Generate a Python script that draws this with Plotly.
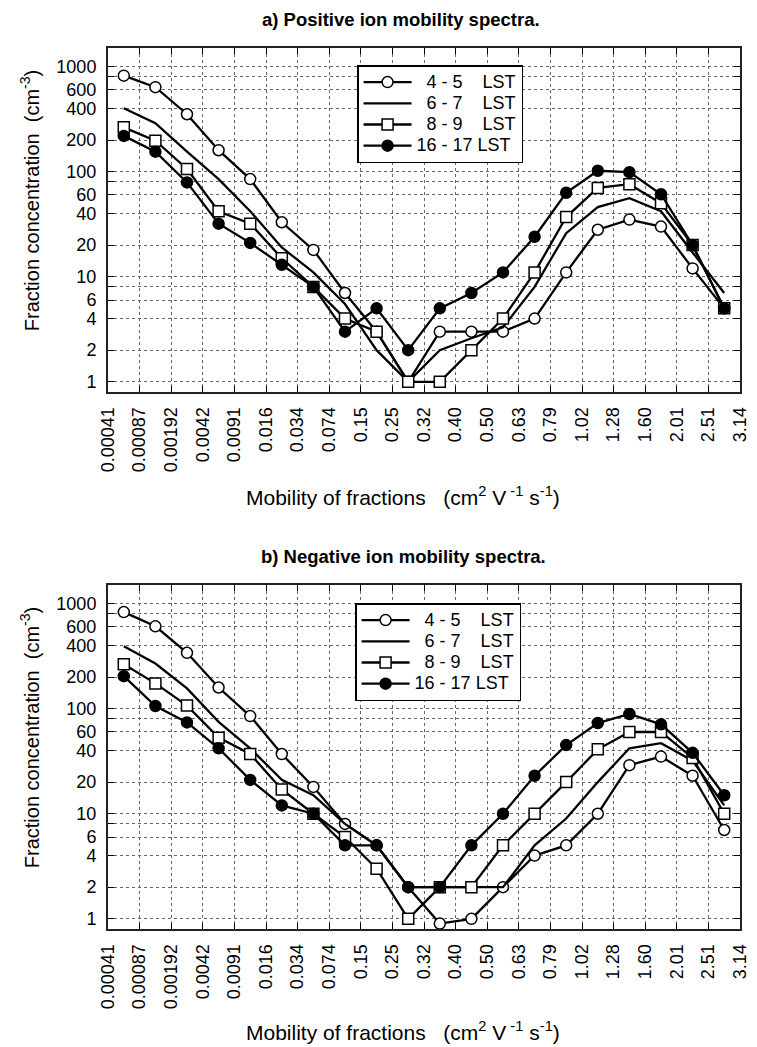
import plotly.graph_objects as go

# ---------------- data ----------------
x_tick_labels = ["0.00041", "0.00087", "0.00192", "0.0042", "0.0091", "0.016", "0.034",
                 "0.074", "0.15", "0.25", "0.32", "0.40", "0.50", "0.63", "0.79", "1.02",
                 "1.28", "1.60", "2.01", "2.51", "3.14"]
# fraction index (each fraction sits between two boundary labels)
fraction_index = list(range(20))

series_names = ["\u00a0\u00a04 - 5\u00a0\u00a0\u00a0\u00a0LST",
                "\u00a0\u00a06 - 7\u00a0\u00a0\u00a0\u00a0LST",
                "\u00a0\u00a08 - 9\u00a0\u00a0\u00a0\u00a0LST",
                "16 - 17 LST"]

# a) positive ions
pos_4_5 = [820, 637, 352, 160, 85, 33, 18, 7, 3, 1, 3, 3, 3, 4, 11, 28, 35, 30, 12, 5]
pos_6_7 = [402, 289, 155, 85, 42, 19, 11, 5.5, 2, 1, 2, 2.6, 3.3, 8, 26, 46, 56, 42, 17, 7]
pos_8_9 = [264, 197, 106, 42, 32, 15, 8, 4, 3, 1, 1, 2, 4, 11, 37, 70, 76, 50, 20, 5]
pos_16_17 = [219, 155, 79, 32, 21, 13, 8, 3, 5, 2, 5, 7, 11, 24, 63, 102, 99, 61, 20, 5]

# b) negative ions
neg_4_5 = [830, 608, 340, 159, 85, 37, 18, 8, 5, 2, 0.9, 1, 2, 4, 5, 10, 29, 35, 23, 7]
neg_6_7 = [393, 269, 156, 75, 42, 21, 15, 8, 5, 2, 2, 2, 2, 5, 9, 20, 42, 47, 32, 12]
neg_8_9 = [265, 174, 107, 53, 37, 17, 10, 6, 3, 1, 2, 2, 5, 10, 20, 41, 60, 60, 34, 10]
neg_16_17 = [204, 106, 74, 42, 21, 12, 10, 5, 5, 2, 2, 5, 10, 23, 45, 73, 89, 71, 38, 15]

y_tick_vals = [1, 2, 4, 6, 8, 10, 20, 40, 60, 80, 100, 200, 400, 600, 800, 1000]
y_tick_text = ["1", "2", "4", "6", "", "10", "20", "40", "60", "", "100", "200", "400", "600", "", "1000"]

# ---------------- figure ----------------
W, H = 757, 1047
L, R, T, B = 108, 7, 48, 118
plot_h = H - T - B  # 881

def py(px):  # pixel y -> paper y
    return (H - B - px) / plot_h

def pxx(px):  # pixel x -> paper x
    return (px - L) / (W - L - R)

x_centers = [i + 0.5 for i in fraction_index]

styles = [
    dict(mode="lines+markers", marker=dict(symbol="circle", size=11, color="white",
                                           line=dict(color="black", width=1.5))),
    dict(mode="lines"),
    dict(mode="lines+markers", marker=dict(symbol="square", size=11, color="white",
                                           line=dict(color="black", width=1.5))),
    dict(mode="lines+markers", marker=dict(symbol="circle", size=11, color="black",
                                           line=dict(color="black", width=1.5))),
]

fig = go.Figure()
panels = [
    ("x", "y", "legend", [pos_4_5, pos_6_7, pos_8_9, pos_16_17]),
    ("x2", "y2", "legend2", [neg_4_5, neg_6_7, neg_8_9, neg_16_17]),
]
for xa, ya, leg, data in panels:
    for name, vals, st in zip(series_names, data, styles):
        fig.add_trace(go.Scatter(
            x=x_centers, y=vals,
            name='<span style="font-size:18px">' + name.replace(" ", "\u00a0") + "</span>",
            xaxis=xa, yaxis=ya, legend=leg,
            line=dict(color="black", width=2.3),
            **st))

font_family = "Arial, Liberation Sans, sans-serif"

xaxis_common = dict(
    range=[0, 20], tickmode="array", tickvals=list(range(21)), ticktext=x_tick_labels,
    tickangle=-90, ticks="inside", ticklen=6, tickwidth=1.3, tickcolor="black",
    showline=True, linecolor="#222", linewidth=2, mirror="ticks",
    showgrid=True, gridcolor="#666", griddash="dot", gridwidth=1,
    zeroline=False, tickfont=dict(size=18, color="black", family=font_family),
    ticklabelstandoff=6, ticklabeloverflow="allow",
)
yaxis_common = dict(
    type="log", range=[-0.097, 3.177], tickmode="array", tickvals=y_tick_vals,
    ticktext=y_tick_text, ticks="inside", ticklen=6, tickwidth=1.3, tickcolor="black",
    showline=True, linecolor="#222", linewidth=2, mirror="ticks",
    showgrid=True, gridcolor="#666", griddash="dot", gridwidth=1,
    zeroline=False, tickfont=dict(size=18, color="black", family=font_family),
    ticklabelstandoff=6,
)

dom_a = [py(392), 1.0]
dom_b = [0.0, py(585)]

legend_common = dict(
    xanchor="left", yanchor="top", bgcolor="white", bordercolor="black", borderwidth=1.5,
    font=dict(size=14, color="black", family=font_family), tracegroupgap=0,
    itemwidth=48,
)

fig.update_layout(
    width=W, height=H, autosize=False,
    margin=dict(l=L, r=R, t=T, b=B, pad=0),
    paper_bgcolor="white", plot_bgcolor="white",
    font=dict(family=font_family, color="black"),
    xaxis=dict(domain=[0, 1], anchor="y", **xaxis_common),
    yaxis=dict(domain=dom_a, anchor="x", **yaxis_common),
    xaxis2=dict(domain=[0, 1], anchor="y2", **xaxis_common),
    yaxis2=dict(domain=dom_b, anchor="x2", **yaxis_common),
    legend=dict(x=pxx(361), y=py(65), **legend_common),
    legend2=dict(x=pxx(359), y=py(603), **legend_common),
    showlegend=True,
)

x_font = dict(size=21, color="black", family=font_family)
y_font = dict(size=20, color="black", family=font_family)
xtitle = "Mobility of fractions\u00a0\u00a0\u00a0(cm<sup>2</sup> V<sup>\u00a0-1</sup> s<sup>-1</sup>)"
ytitle = "Fraction concentration\u00a0\u00a0(cm<sup>-3</sup>)"
title_font = dict(size=18.5, color="black", family=font_family)
annotations = [
    dict(text="<b>a) Positive ion mobility spectra.</b>", x=pxx(406), y=py(19), font=title_font),
    dict(text="<b>b) Negative ion mobility spectra.</b>", x=pxx(408), y=py(556), font=title_font),
    dict(text=xtitle, x=pxx(408), y=py(496), font=x_font),
    dict(text=xtitle, x=pxx(408), y=py(1031), font=x_font),
    dict(text=ytitle, x=pxx(28), y=py(201), textangle=-90, font=y_font),
    dict(text=ytitle, x=pxx(28), y=py(738), textangle=-90, font=y_font),
]
for a in annotations:
    a.update(xref="paper", yref="paper", showarrow=False, xanchor="center", yanchor="middle")
fig.update_layout(annotations=annotations)

fig.write_html("out.html")
